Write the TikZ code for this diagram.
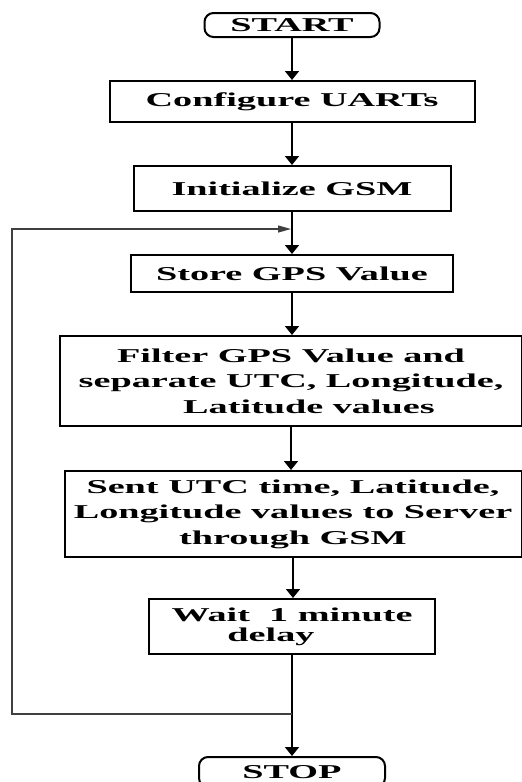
\documentclass[tikz,border=0pt]{standalone}
\usepackage{fontspec}
\usetikzlibrary{arrows.meta}
\newfontfamily\flujofont{Liberation Serif}[FakeStretch=1.95]
\tikzset{
  caja/.style={draw, line width=2pt, inner sep=0pt, align=center,
    font=\flujofont\bfseries\fontsize{19.6}{25.5}\selectfont},
  terminal/.style={caja, rounded corners=9pt},
  flecha/.style={line width=1.8pt, -{Triangle[length=9pt,width=14pt]}},
  retorno/.style={line width=1.2pt, black!75, -{Triangle[length=13pt,width=7pt]}}
}
\begin{document}
\begin{tikzpicture}[x=1pt, y=-1pt]
                \useasboundingbox (0,0) rectangle (522,782);

                % Inicio y fin
                \node[terminal, minimum width=175pt, minimum height=24pt] (start) at (292,25) {START};
                \node[terminal, minimum width=186pt, minimum height=30pt] (stop) at (292,772) {STOP};

                % Cajas de proceso
                \node[caja, minimum width=365pt, minimum height=41pt] (uarts) at (292,101.5) {Configure UARTs};
                \node[caja, minimum width=317pt, minimum height=45pt] (gsm) at (292,188.5) {Initialize GSM};
                \node[caja, minimum width=322pt, minimum height=37pt] (store) at (292,273.5) {Store GPS Value};
                \node[caja, minimum width=462pt, minimum height=90pt] (filter) at (291,381)
                    {Filter GPS Value and\\ separate UTC, Longitude,\\ \hspace*{36pt}Latitude values};
                \node[caja, minimum width=457pt, minimum height=86pt] (sent) at (293,514)
                    {Sent UTC time, Latitude,\\ Longitude values to Server\\ through GSM};
                \node[caja, minimum width=286pt, minimum height=55pt] (wait) at (292,626.5)
                    {Wait\ \ 1 minute\\[-5.5pt] delay\hspace*{42pt}};

                % Flechas principales
                \draw[flecha] (start) -- (uarts);
                \draw[flecha] (uarts) -- (gsm);
                \draw[flecha] (gsm) -- (store);
                \draw[flecha] (store.south) -- (store.south |- filter.north);
                \draw[flecha] (filter.south) -- (filter.south |- sent.north);
                \draw[flecha] (sent.south) -- (sent.south |- wait.north);
                \draw[flecha] (wait) -- (stop);

                % Lazo de repeticion
                \coordinate (salida) at (292,714);
                \coordinate (esquina) at (12,714);
                \coordinate (entrada) at (291,229);
                \draw[retorno] (salida) -- (esquina) |- (entrada);
            \end{tikzpicture}
\end{document}
